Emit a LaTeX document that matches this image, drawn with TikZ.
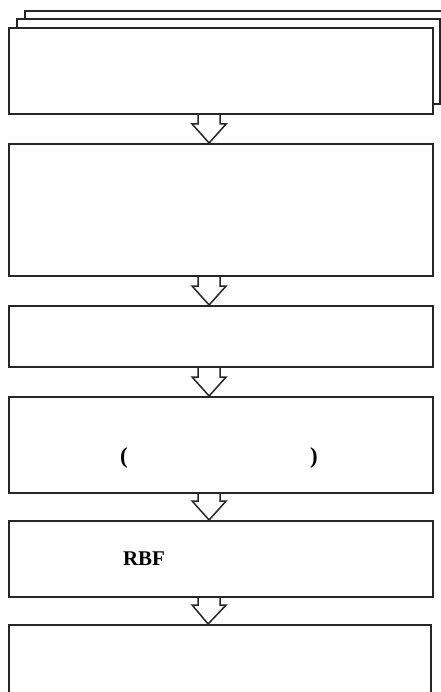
\documentclass[tikz,border=0pt]{standalone}
\usepackage{fontspec}
\setmainfont{Liberation Serif}
\usetikzlibrary{calc}
\begin{document}
\begin{tikzpicture}[x=1bp,y=-1bp,
  boxline/.style={draw=black!85,line width=2.2bp,fill=white},
  hollow/.style={draw=black!85,line width=1.5bp,fill=white,line join=miter},
  lbl/.style={font=\bfseries\fontsize{21}{24}\selectfont,inner sep=0pt},
  par/.style={font=\bfseries\fontsize{23}{26}\selectfont,inner sep=0pt}]
\useasboundingbox (0,0) rectangle (441,692);
\clip (0,0) rectangle (441,692);
% stacked first box
\path[boxline] (25,11) rectangle (452,96);
\path[boxline] (17,19) rectangle (440,104);
\node[boxline,minimum width=424bp,minimum height=86bp,anchor=north west,inner sep=0pt] (b1) at (8,27) {};
\node[boxline,minimum width=424bp,minimum height=132bp,anchor=north west,inner sep=0pt] (b2) at (8,143) {};
\node[boxline,minimum width=424bp,minimum height=61bp,anchor=north west,inner sep=0pt] (b3) at (8,305) {};
\node[boxline,minimum width=424bp,minimum height=96bp,anchor=north west,inner sep=0pt] (b4) at (8,396) {};
\node[boxline,minimum width=424bp,minimum height=76bp,anchor=north west,inner sep=0pt] (b5) at (8,520) {};
\node[boxline,minimum width=422bp,minimum height=90bp,anchor=north west,inner sep=0pt] (b6) at (8,624) {};
\node[par] (lp) at (124,458) {(};
\node[par] (rp) at (314,458) {)};
\node[lbl] (rbf) at (144,559) {RBF};
\foreach \a/\b in {b1/b2,b2/b3,b3/b4,b4/b5,b5/b6}{
  \draw[hollow] let \p1=([xshift=-12bp]\a.south), \p2=([xshift=-12bp]\b.north) in
    (\x1-11bp,\y1) -- (\x1-11bp,\y2+19bp) -- (\x1-17bp,\y2+19bp) -- (\x2,\y2)
    -- (\x1+17bp,\y2+19bp) -- (\x1+11bp,\y2+19bp) -- (\x1+11bp,\y1);
}
\end{tikzpicture}
\end{document}
